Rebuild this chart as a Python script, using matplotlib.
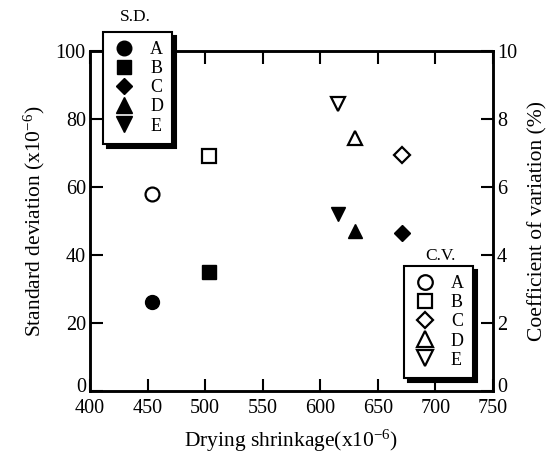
import numpy as np
import matplotlib.pyplot as plt
import matplotlib.transforms as mtransforms
from matplotlib.lines import Line2D

plt.rcParams['font.family'] = 'Liberation Serif'
plt.rcParams['mathtext.fontset'] = 'custom'
plt.rcParams['mathtext.rm'] = 'Liberation Serif'
plt.rcParams['mathtext.it'] = 'Liberation Serif'

# data
labels = ['A', 'B', 'C', 'D', 'E']
markers = ['o', 's', 'D', '^', 'v']
shrinkage = [454, 503, 671, 630, 615]          # x10^-6
sd = [26, 35, 46.5, 47, 52]                    # x10^-6
cv = [5.8, 6.9, 6.95, 7.45, 8.45]              # %

fig = plt.figure(figsize=(5.52, 4.62), dpi=100)
ax = fig.add_axes([0.163, 0.154, 0.730, 0.736])
ax2 = ax.twinx()

msize = {'o': 10, 's': 10, 'D': 8, '^': 10.5, 'v': 10.5}
for xi, yi, m in zip(shrinkage, sd, markers):
    ax.plot(xi, yi, m, color='k', ms=msize[m], zorder=3)
for xi, yi, m in zip(shrinkage, cv, markers):
    ax2.plot(xi, yi, m, mfc='white', mec='k', mew=1.6, ms=msize[m], zorder=3)

ax.set_xlim(400, 750)
ax.set_ylim(0, 100)
ax2.set_ylim(0, 10)
ax.set_xticks(np.arange(400, 751, 50))
ax.set_yticks(np.arange(0, 101, 20))
ax2.set_yticks(np.arange(0, 11, 2))

ax.tick_params(axis='x', direction='in', top=True, length=9, width=1.5, labelsize=14.5, pad=6)
ax.tick_params(axis='y', direction='in', length=9, width=1.5, labelsize=14.5, pad=3)
ax2.tick_params(axis='y', direction='in', length=9, width=1.5, labelsize=14.5, pad=3)
for a in (ax, ax2):
    for s in a.spines.values():
        s.set_linewidth(1.8)

# lift the "0" labels a little so they sit above the x tick labels
lift = mtransforms.ScaledTranslation(0, 4 / 72, fig.dpi_scale_trans)
for a in (ax, ax2):
    fig.canvas.draw()
    lbl = a.get_yticklabels()[0]
    lbl.set_transform(lbl.get_transform() + lift)

ax.set_xlabel('Drying shrinkage(x10$^{-6}$)', fontsize=15.5, labelpad=7)
ax.set_ylabel('Standard deviation (x10$^{-6}$)', fontsize=15.5, labelpad=6)
ax2.set_ylabel('Coefficient of variation (%)', fontsize=15.5, labelpad=8)

# legends
sd_handles = [Line2D([], [], ls='', marker=m, color='k', ms=msize[m] * 1.05) for m in markers]
cv_handles = [Line2D([], [], ls='', marker=m, mfc='white', mec='k', mew=1.6, ms=msize[m] * 1.05)
              for m in markers]

leg_kw = dict(loc='upper left', bbox_transform=fig.transFigure, fontsize=13,
              frameon=True, fancybox=False, edgecolor='k', borderaxespad=0,
              handlelength=1.3, handletextpad=0.8, labelspacing=0.12,
              borderpad=0.5, shadow={'color': 'k', 'alpha': 1, 'ox': 3, 'oy': -3})
leg1 = ax2.legend(sd_handles, labels, bbox_to_anchor=(0.187, 0.931), **leg_kw)
leg1.get_frame().set_linewidth(1.5)
ax2.add_artist(leg1)
leg2 = ax2.legend(cv_handles, labels, bbox_to_anchor=(0.732, 0.424), **leg_kw)
leg2.get_frame().set_linewidth(1.5)

fig.text(0.245, 0.945, 'S.D.', fontsize=12.5, ha='center', va='bottom')
fig.text(0.798, 0.428, 'C.V.', fontsize=12.5, ha='center', va='bottom')

fig.savefig('out.png', dpi=100)
